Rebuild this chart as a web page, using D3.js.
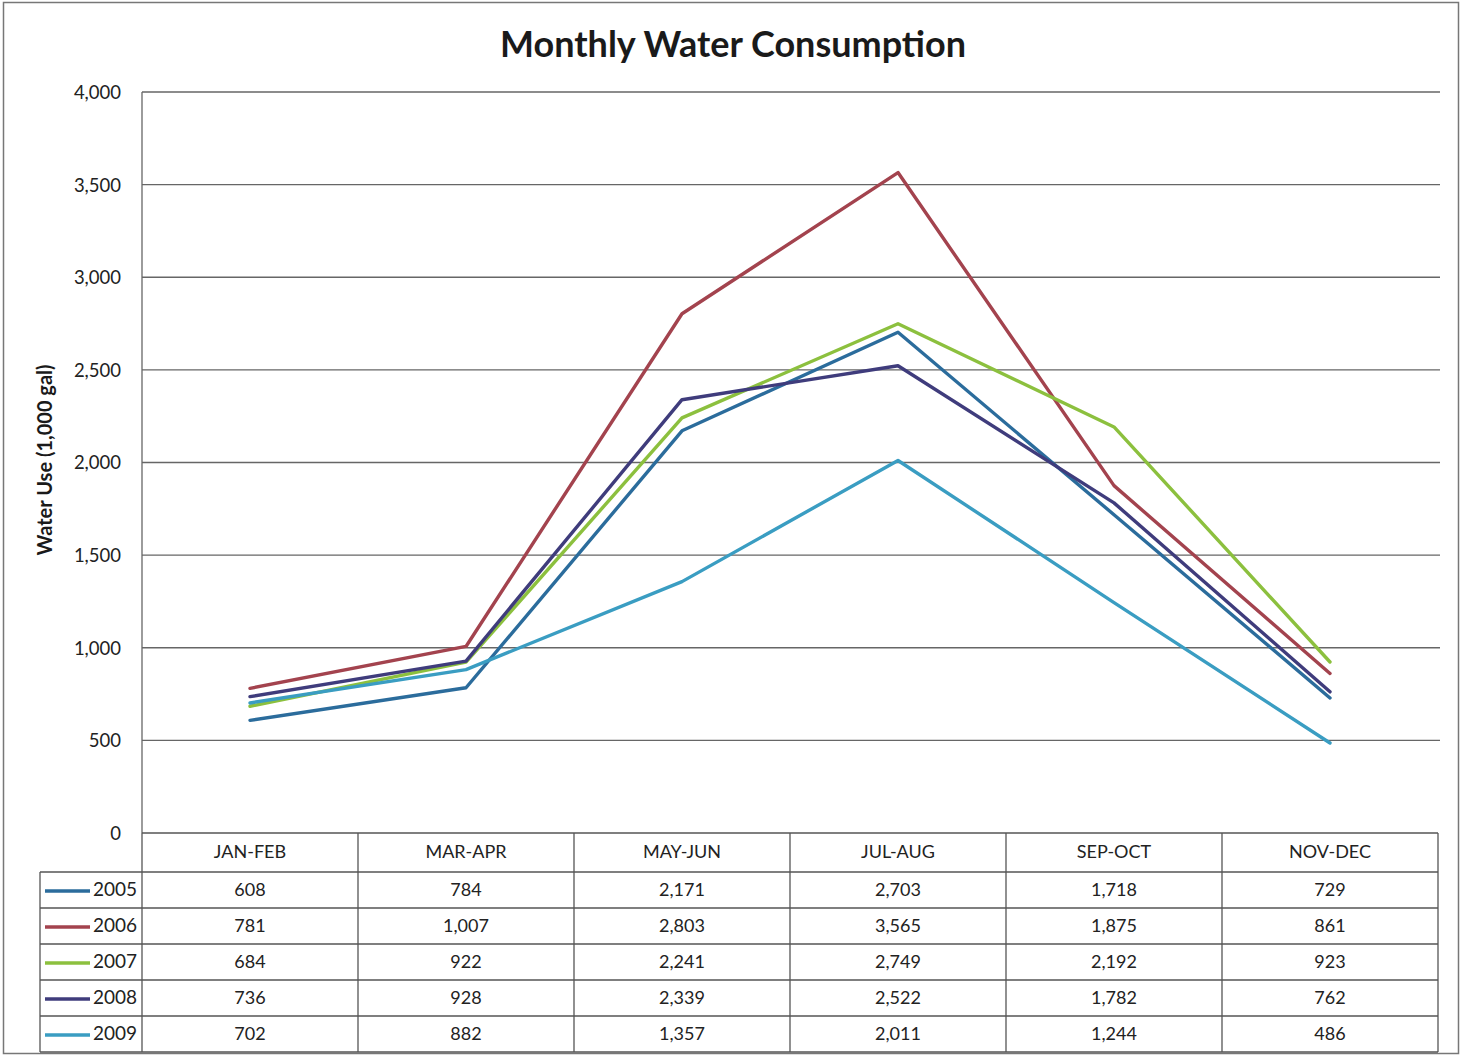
<!DOCTYPE html>
<html>
<head>
<meta charset="utf-8">
<script src="https://cdn.jsdelivr.net/npm/d3@7"></script>
<style>
  html, body { margin: 0; padding: 0; background: #fff; }
  svg { display: block; font-family: Lato, "Open Sans", sans-serif; }
</style>
</head>
<body>
<svg id="chart" width="1463" height="1060"></svg>
<script>
const categories = ["JAN-FEB", "MAR-APR", "MAY-JUN", "JUL-AUG", "SEP-OCT", "NOV-DEC"];
const seriesNames = ["2005", "2006", "2007", "2008", "2009"];
const v2005 = [608, 784, 2171, 2703, 1718, 729];
const v2006 = [781, 1007, 2803, 3565, 1875, 861];
const v2007 = [684, 922, 2241, 2749, 2192, 923];
const v2008 = [736, 928, 2339, 2522, 1782, 762];
const v2009 = [702, 882, 1357, 2011, 1244, 486];
const yTicks = [0, 500, 1000, 1500, 2000, 2500, 3000, 3500, 4000];
const colors = ["#2b6c9c", "#a3434e", "#8cc03e", "#3f3c7c", "#3a9dc2"];
const title = "Monthly Water Consumption";
const yTitle = "Water Use (1,000 gal)";

const seriesValues = [v2005, v2006, v2007, v2008, v2009];
const series = seriesNames.map((n, i) => ({ name: n, values: seriesValues[i], color: colors[i] }));

const svg = d3.select("#chart");
const plot = { left: 142, right: 1438, top: 92, bottom: 833 };
const legendLeft = 40;
const rowH = 36;
const headerH = 39;

// outer border
svg.append("rect").attr("x", 3.5).attr("y", 2.5).attr("width", 1455).attr("height", 1051)
  .attr("fill", "#fff").attr("stroke", "#777").attr("stroke-width", 1.5);

const x = d3.scaleBand().domain(categories).range([plot.left, plot.right]).padding(0);
const y = d3.scaleLinear().domain([0, 4000]).range([plot.bottom, plot.top]);

// gridlines
svg.append("g").selectAll("line").data(yTicks.filter(d => d > 0)).join("line")
  .attr("x1", plot.left).attr("x2", plot.right + 2)
  .attr("y1", d => y(d)).attr("y2", d => y(d))
  .attr("stroke", "#666").attr("stroke-width", 1.3);

// y axis
const yAxis = svg.append("g").attr("transform", `translate(${plot.left},0)`)
  .call(d3.axisLeft(y).tickValues(yTicks).tickFormat(d3.format(",")).tickSize(0).tickPadding(21));
yAxis.select(".domain").remove();
yAxis.selectAll("text").attr("font-size", 18.5).attr("fill", "#222")
  .attr("font-family", "Lato, sans-serif").attr("dy", "0.35em");

svg.append("line").attr("x1", plot.left).attr("x2", plot.left)
  .attr("y1", plot.top).attr("y2", plot.bottom)
  .attr("stroke", "#666").attr("stroke-width", 1.3);

// Data table
const tableTop = plot.bottom;
const tableBottom = tableTop + headerH + rowH * series.length;
const tg = svg.append("g");
tg.append("line").attr("x1", plot.left).attr("x2", plot.right).attr("y1", tableTop).attr("y2", tableTop)
  .attr("stroke", "#555").attr("stroke-width", 1.3);
for (let i = 0; i <= series.length; i++) {
  const yy = tableTop + headerH + rowH * i;
  tg.append("line").attr("x1", legendLeft).attr("x2", plot.right).attr("y1", yy).attr("y2", yy)
    .attr("stroke", "#555").attr("stroke-width", 1.3);
}
const vxs = categories.map(c => x(c)).concat([plot.right]);
vxs.forEach(vx => {
  tg.append("line").attr("x1", vx).attr("x2", vx).attr("y1", tableTop).attr("y2", tableBottom)
    .attr("stroke", "#555").attr("stroke-width", 1.3);
});
tg.append("line").attr("x1", legendLeft).attr("x2", legendLeft)
  .attr("y1", tableTop + headerH).attr("y2", tableBottom)
  .attr("stroke", "#555").attr("stroke-width", 1.3);

tg.selectAll("text.hdr").data(categories).join("text").attr("class", "hdr")
  .attr("x", d => x(d) + x.bandwidth() / 2).attr("y", tableTop + headerH / 2 + 1)
  .attr("text-anchor", "middle").attr("dominant-baseline", "middle")
  .attr("font-size", 18).attr("fill", "#222").text(d => d);

const fmt = d3.format(",");
series.forEach((s, i) => {
  const cy = tableTop + headerH + rowH * i + rowH / 2 + 1;
  tg.append("line").attr("x1", legendLeft + 5).attr("x2", legendLeft + 50).attr("y1", cy).attr("y2", cy)
    .attr("stroke", s.color).attr("stroke-width", 3.5);
  tg.append("text").attr("x", plot.left - 5).attr("y", cy).attr("text-anchor", "end")
    .attr("dominant-baseline", "middle").attr("font-size", 19).attr("fill", "#222").text(s.name);
  tg.selectAll(null).data(s.values).join("text")
    .attr("x", (d, j) => x(categories[j]) + x.bandwidth() / 2).attr("y", cy)
    .attr("text-anchor", "middle").attr("dominant-baseline", "middle")
    .attr("font-size", 18).attr("fill", "#222").text(d => fmt(d));
});

// lines
const line = d3.line()
  .x((d, j) => x(categories[j]) + x.bandwidth() / 2)
  .y(d => y(d));
svg.append("g").selectAll("path").data(series).join("path")
  .attr("d", d => line(d.values))
  .attr("fill", "none").attr("stroke", d => d.color).attr("stroke-width", 3.4)
  .attr("stroke-linejoin", "round").attr("stroke-linecap", "round");

// title
svg.append("text").attr("x", 733).attr("y", 57).attr("text-anchor", "middle")
  .attr("font-size", 36).attr("font-weight", "bold").attr("fill", "#1a1a1a").text(title);

// y title
svg.append("text").attr("transform", "translate(52,460) rotate(-90)")
  .attr("text-anchor", "middle").attr("font-size", 20).attr("font-weight", "bold")
  .attr("fill", "#1a1a1a").text(yTitle);
</script>
</body>
</html>
